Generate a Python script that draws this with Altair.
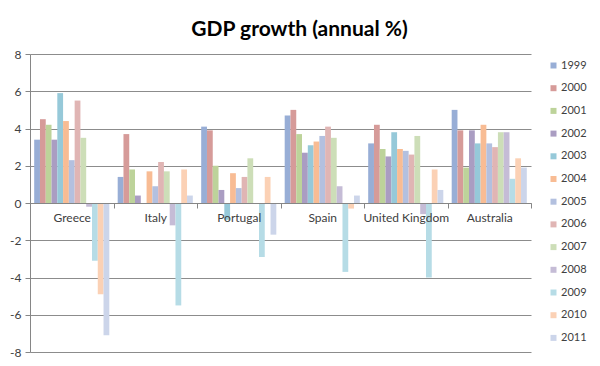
import altair as alt
import pandas as pd

countries = ["Greece", "Italy", "Portugal", "Spain", "United Kingdom", "Australia"]
years = ["1999", "2000", "2001", "2002", "2003", "2004", "2005",
         "2006", "2007", "2008", "2009", "2010", "2011"]

greece = [3.4, 4.5, 4.2, 3.4, 5.9, 4.4, 2.3, 5.5, 3.5, -0.2, -3.1, -4.9, -7.1]
italy = [1.4, 3.7, 1.8, 0.4, -0.05, 1.7, 0.9, 2.2, 1.7, -1.2, -5.5, 1.8, 0.4]
portugal = [4.1, 3.9, 2.0, 0.7, -0.9, 1.6, 0.8, 1.4, 2.4, -0.05, -2.9, 1.4, -1.7]
spain = [4.7, 5.0, 3.7, 2.7, 3.1, 3.3, 3.6, 4.1, 3.5, 0.9, -3.7, -0.3, 0.4]
uk = [3.2, 4.2, 2.9, 2.5, 3.8, 2.9, 2.8, 2.6, 3.6, -0.6, -4.0, 1.8, 0.7]
australia = [5.0, 3.9, 1.9, 3.9, 3.2, 4.2, 3.2, 3.0, 3.8, 3.8, 1.3, 2.4, 1.9]

y_ticks = [-8, -6, -4, -2, 0, 2, 4, 6, 8]

colors = ["#98AED6", "#D69B99", "#BDD39A", "#AA9DC2", "#96C9D9", "#F8BC94",
          "#B3C0DF", "#E0B5B4", "#CDDEB8", "#C5BCD6", "#B6DCE6", "#FBD1B5", "#CCD5EA"]

series = [greece, italy, portugal, spain, uk, australia]
rows = []
for c, vals in zip(countries, series):
    for y, v in zip(years, vals):
        rows.append({"country": c, "year": y, "value": v})
df = pd.DataFrame(rows)

FONT = "Lato"
AXIS_GREY = "#868686"
TEXT = "#404040"

chart = alt.Chart(df).mark_bar().encode(
    x=alt.X("country:N", sort=countries,
            scale=alt.Scale(paddingInner=0, paddingOuter=0),
            axis=alt.Axis(title=None, labelAngle=0, offset=-149, tickBand="extent",
                          domainColor=AXIS_GREY, tickColor=AXIS_GREY, tickSize=5,
                          labelPadding=4, labelFontSize=12, labelFont=FONT,
                          labelColor=TEXT, grid=False, zindex=1)),
    xOffset=alt.XOffset("year:N", sort=years,
                        scale=alt.Scale(paddingInner=0, paddingOuter=0.725)),
    y=alt.Y("value:Q", scale=alt.Scale(domain=[-8, 8], nice=False),
            axis=alt.Axis(title=None, values=y_ticks, grid=True, gridColor="#8C8C8C",
                          domainColor=AXIS_GREY, tickColor=AXIS_GREY, tickSize=5,
                          labelPadding=4, labelFontSize=12, labelFont=FONT,
                          labelColor=TEXT, labelExpr="'' + datum.value")),
    color=alt.Color("year:N", sort=years,
                    scale=alt.Scale(domain=years, range=colors),
                    legend=alt.Legend(title=None, orient="none", legendX=518, legendY=6,
                                      symbolType="square", symbolSize=36,
                                      symbolStrokeWidth=0, rowPadding=10.7,
                                      labelFontSize=11, labelFont=FONT,
                                      labelColor=TEXT, labelOffset=2, padding=0)),
).properties(
    width=501, height=298,
    padding={"left": 22, "top": 46, "right": 61, "bottom": 6},
    autosize=alt.AutoSizeParams(type="none"),
    title=alt.TitleParams("GDP growth (annual %)", font=FONT, fontSize=21,
                          fontWeight="bold", color="#000000", anchor="middle",
                          frame="group", dx=19, offset=8),
).configure_view(strokeWidth=0)

chart.save("out.html", embed_options={"renderer": "svg", "actions": False})
